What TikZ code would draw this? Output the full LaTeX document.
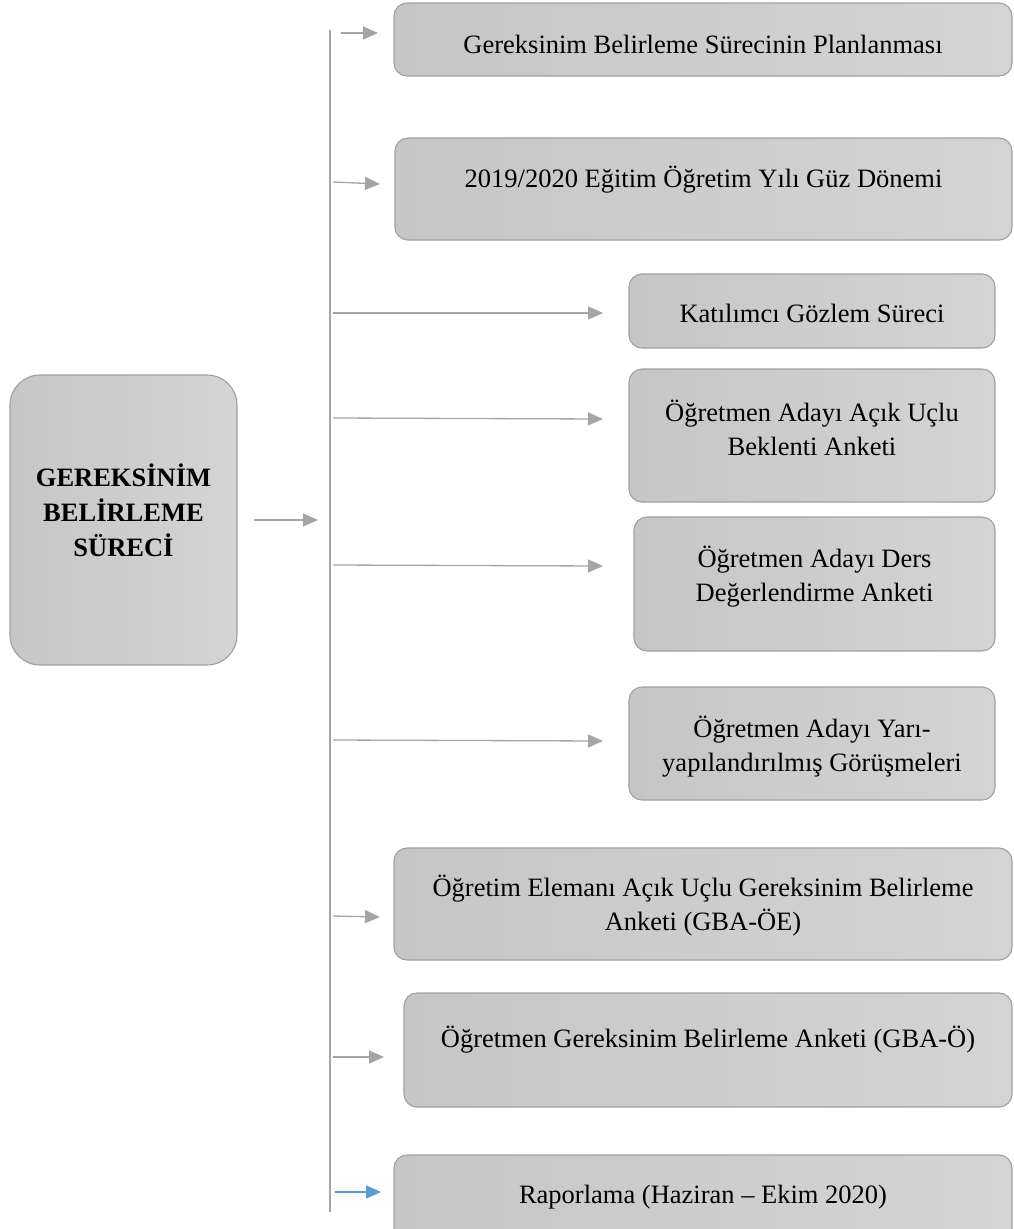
\documentclass[tikz,border=0pt]{standalone}
\usepackage{fontspec}
\setmainfont{Liberation Serif}
\usetikzlibrary{arrows.meta}
\definecolor{boxL}{RGB}{198,198,198}
\definecolor{boxR}{RGB}{212,212,212}
\definecolor{boxline}{RGB}{160,160,160}
\definecolor{linegray}{RGB}{165,165,165}
\definecolor{accent}{RGB}{91,155,213}
\begin{document}
\begin{tikzpicture}[x=1pt,y=-1pt,
  box/.style={draw=boxline, line width=1.1pt, rounded corners=13pt,
    left color=boxL, right color=boxR, inner sep=0pt},
  lbl/.style={font=\fontsize{26.5}{34}\selectfont, align=center, inner sep=0pt},
  arr/.style={draw=linegray, line width=1.3pt,
    -{Triangle[length=15pt,width=13pt]}, color=linegray},
  bar/.style={draw=linegray, line width=1.3pt}]
\useasboundingbox (0,0) rectangle (1013,1229);

% central box
\node[box, minimum width=227pt, minimum height=290pt, rounded corners=30pt] (main) at (123.5,520) {};
\node[lbl, font=\fontsize{26.5}{35}\selectfont\bfseries] (mainlbl) at (123.5,510) {GEREKSİNİM\\BELİRLEME\\SÜRECİ};

% vertical distribution line
\coordinate (bartop) at (330,30);
\coordinate (barbot) at (330,1212);
\draw[bar] (bartop) -- (barbot);

% main arrow
\coordinate (ma) at (254,520);
\coordinate (mb) at (318,520);
\draw[arr] (ma) -- (mb);

% step boxes
\node[box, minimum width=618pt, minimum height=73pt] (n1) at (703,39.5) {};
\node[lbl] (t1) at (703,44) {Gereksinim Belirleme Sürecinin Planlanması};

\node[box, minimum width=617pt, minimum height=102pt] (n2) at (703.5,189) {};
\node[lbl] (t2) at (703.5,180) {2019/2020 Eğitim Öğretim Yılı Güz Dönemi};

\node[box, minimum width=366pt, minimum height=74pt] (n3) at (812,311) {};
\node[lbl] (t3) at (812,313) {Katılımcı Gözlem Süreci};

\node[box, minimum width=366pt, minimum height=133pt] (n4) at (812,435.5) {};
\node[lbl] (t4) at (812,428) {Öğretmen Adayı Açık Uçlu\\Beklenti Anketi};

\node[box, minimum width=361pt, minimum height=134pt] (n5) at (814.5,584) {};
\node[lbl] (t5) at (814.5,576.5) {Öğretmen Adayı Ders\\Değerlendirme Anketi};

\node[box, minimum width=366pt, minimum height=113pt] (n6) at (812,743.5) {};
\node[lbl] (t6) at (812,746.5) {Öğretmen Adayı Yarı-\\yapılandırılmış Görüşmeleri};

\node[box, minimum width=618pt, minimum height=112pt] (n7) at (703,904) {};
\node[lbl] (t7) at (703,906) {Öğretim Elemanı Açık Uçlu Gereksinim Belirleme\\Anketi (GBA-ÖE)};

\node[box, minimum width=608pt, minimum height=114pt] (n8) at (708,1050) {};
\node[lbl] (t8) at (708,1040) {Öğretmen Gereksinim Belirleme Anketi (GBA-Ö)};

\node[box, minimum width=618pt, minimum height=90pt] (n9) at (703,1200) {};
\node[lbl] (t9) at (703,1197) {Raporlama (Haziran – Ekim 2020)};

% branch arrows from the line to each step
\coordinate (s1) at (341,33);   \coordinate (e1) at (378,33);
\coordinate (s2) at (333,182);  \coordinate (e2) at (380,184);
\coordinate (s3) at (333,313);  \coordinate (e3) at (603,313);
\coordinate (s4) at (333,418);  \coordinate (e4) at (603,419);
\coordinate (s5) at (333,565);  \coordinate (e5) at (603,566);
\coordinate (s6) at (333,740);  \coordinate (e6) at (603,741);
\coordinate (s7) at (333,916);  \coordinate (e7) at (380,917);
\coordinate (s8) at (333,1057); \coordinate (e8) at (384,1057);
\coordinate (s9) at (335,1192); \coordinate (e9) at (381,1192);
\foreach \i in {1,...,8} \draw[arr] (s\i) -- (e\i);
\draw[arr, draw=accent, color=accent] (s9) -- (e9);
\end{tikzpicture}
\end{document}
